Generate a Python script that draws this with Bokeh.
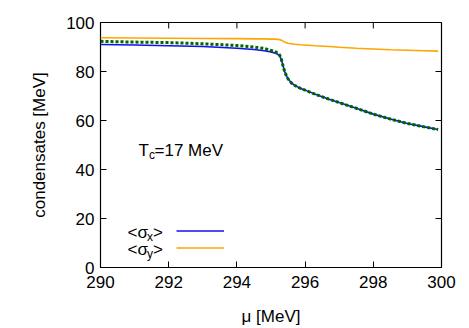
from bokeh.plotting import figure
from bokeh.models import Range1d, FixedTicker, Label, Legend, LegendItem
from bokeh.embed import file_html
from bokeh.resources import INLINE

# ---- data ----
mu = [290, 291, 292, 293, 294, 294.5, 294.8, 295.0, 295.1, 295.2, 295.25, 295.3,
      295.35, 295.4, 295.45, 295.5, 295.6, 295.7, 295.85, 296, 296.3, 296.7, 297,
      297.5, 298, 298.5, 299, 299.5, 299.9]
sigma_x = [91.0, 90.8, 90.5, 90.2, 89.5, 89.0, 88.5, 88.0, 87.6, 87.0, 86.4, 85.0,
           82.5, 80.0, 78.3, 77.0, 75.3, 74.3, 73.2, 72.4, 70.7, 68.7, 67.3,
           65.0, 62.6, 60.6, 58.8, 57.4, 56.3]
sigma_y = [93.8, 93.7, 93.6, 93.5, 93.4, 93.3, 93.3, 93.2, 93.2, 93.1, 93.0, 92.8,
           92.4, 92.0, 91.7, 91.5, 91.3, 91.1, 90.9, 90.8, 90.5, 90.2, 89.9,
           89.5, 89.2, 88.9, 88.7, 88.5, 88.3]
sigma_avg = [92.3, 92.0, 91.8, 91.3, 90.6, 90.0, 89.4, 88.6, 88.2, 87.5, 86.8, 85.2,
             82.5, 80.0, 78.3, 77.0, 75.3, 74.3, 73.2, 72.4, 70.7, 68.7, 67.3,
             65.0, 62.6, 60.6, 58.8, 57.4, 56.3]
x_ticks = [290, 292, 294, 296, 298, 300]
y_ticks = [0, 20, 40, 60, 80, 100]

FONT = "Liberation Sans"
X0, X1, Y0, Y1 = 290, 300, 0, 100
FRAME_W, FRAME_H = 341, 247
TICK_PX = 6

p = figure(width=469, height=328, output_backend="svg", toolbar_location=None,
           x_range=Range1d(X0, X1), y_range=Range1d(Y0, Y1),
           x_axis_label="μ [MeV]", y_axis_label="condensates [MeV]",
           min_border_left=100, min_border_right=28, min_border_top=22,
           min_border_bottom=59)
p.xgrid.visible = False
p.ygrid.visible = False
p.outline_line_color = "black"
p.outline_line_width = 1.2
p.background_fill_color = "white"
p.border_fill_color = "white"

p.xaxis.ticker = FixedTicker(ticks=x_ticks)
p.yaxis.ticker = FixedTicker(ticks=y_ticks)

for ax in (p.xaxis[0], p.yaxis[0]):
    ax.axis_line_color = None
    ax.major_tick_in = TICK_PX
    ax.major_tick_out = 0
    ax.minor_tick_line_color = None
    ax.major_tick_line_color = "black"
    ax.major_label_text_font = FONT
    ax.major_label_text_font_size = "17px"
    ax.major_label_text_color = "black"
    ax.axis_label_text_font = FONT
    ax.axis_label_text_font_size = "17px"
    ax.axis_label_text_font_style = "normal"
    ax.axis_label_text_color = "black"

p.xaxis.major_label_standoff = 8
p.xaxis.axis_label_standoff = 16
p.yaxis.major_label_standoff = 6
p.yaxis.axis_label_standoff = 14

# mirrored tick marks on the top and right edges (from the tick lists)
dy = TICK_PX * (Y1 - Y0) / FRAME_H
dx = TICK_PX * (X1 - X0) / FRAME_W
p.segment(x0=x_ticks, y0=[Y1] * len(x_ticks), x1=x_ticks,
          y1=[Y1 - dy] * len(x_ticks), line_color="black", line_width=1)
p.segment(x0=[X1] * len(y_ticks), y0=y_ticks, x1=[X1 - dx] * len(y_ticks),
          y1=y_ticks, line_color="black", line_width=1)

r_x = p.line(mu, sigma_x, line_color="#1010f0", line_width=1.6)
r_y = p.line(mu, sigma_y, line_color="#ffa500", line_width=1.6)
p.line(mu, sigma_avg, line_color="#006400", line_width=3, line_dash="3 2")

legend = Legend(items=[LegendItem(label=" ", renderers=[r_x]),
                       LegendItem(label=" ", renderers=[r_y])],
                location=(76, 11), glyph_width=48, glyph_height=17,
                label_height=17, label_width=1, label_text_font_size="6px",
                padding=0, margin=0, spacing=0, label_standoff=0,
                border_line_color=None, background_fill_alpha=0)
p.add_layout(legend, "center")


def lab(x, y, text, size="17px"):
    p.add_layout(Label(x=x, y=y, x_units="screen", y_units="screen", text=text,
                       text_font=FONT, text_font_size=size, text_color="black",
                       text_baseline="alphabetic", text_align="left"))


# annotation T_c = 17 MeV
lab(38, 117, "T")
lab(48.5, 113, "c", "12px")
lab(54, 117, "=17 MeV")

# legend texts
lab(27, 35.5, "<σ")
lab(46.5, 31, "x", "12px")
lab(52.5, 35.5, ">")
lab(27, 18, "<σ")
lab(46.5, 14, "y", "12px")
lab(52.5, 18, ">")

open("out.html", "w").write(file_html(p, INLINE))
